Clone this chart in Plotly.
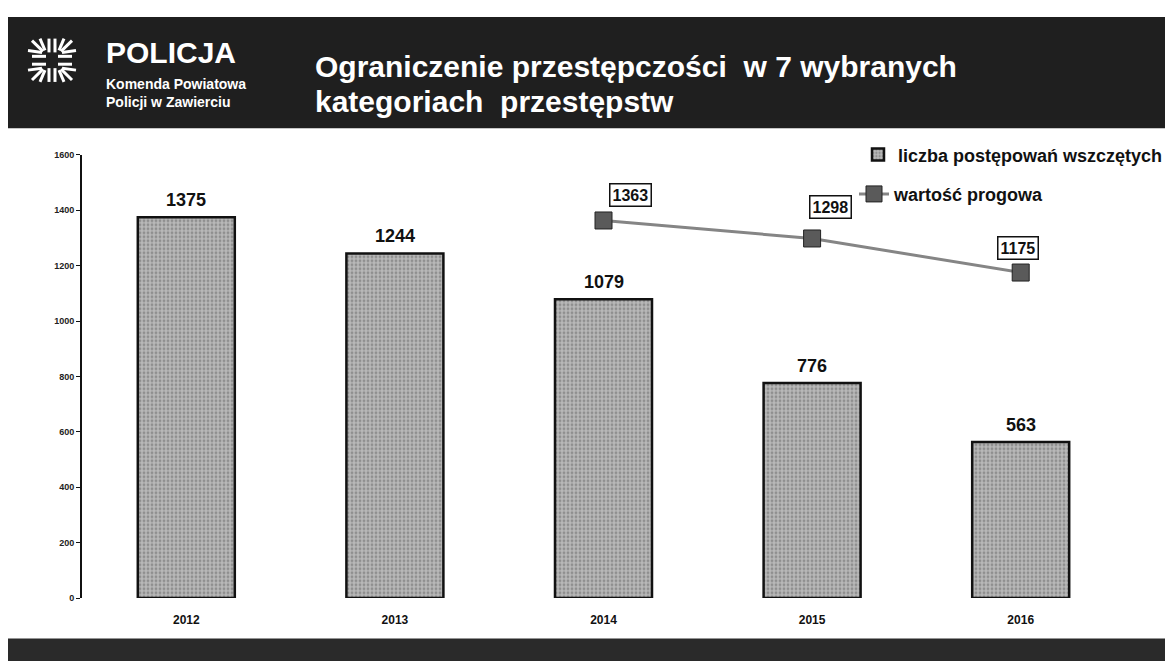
import plotly.graph_objects as go

years = ["2012", "2013", "2014", "2015", "2016"]
cases = [1375, 1244, 1079, 776, 563]
thr_years = ["2014", "2015", "2016"]
threshold = [1363, 1298, 1175]
y_ticks = [0, 200, 400, 600, 800, 1000, 1200, 1400, 1600]

W, H = 1173, 661
OFF = 8  # page body margin compensation
def px(x): return (x - OFF) / W
def py(y): return 1 - (y - OFF) / H

fig = go.Figure()

fig.add_trace(go.Bar(
    x=years, y=cases, name="<b>liczba postępowań wszczętych</b>",
    width=0.465,
    marker=dict(color="#b0b0b0", line=dict(color="#111", width=2.5),
                pattern=dict(shape=".", fgcolor="#666", bgcolor="#b8b8b8", size=4, solidity=0.4)),
    legend="legend",
))
fig.add_trace(go.Scatter(
    x=thr_years, y=threshold, name="<b>wartość progowa</b>", mode="lines+markers",
    line=dict(color="#858585", width=3),
    marker=dict(symbol="square", size=17, color="#5a5a5a", line=dict(color="#222", width=1)),
    legend="legend2",
))

annotations = []
for i, v in enumerate(cases):
    annotations.append(dict(x=i, y=v, text=f"<b>{v}</b>", showarrow=False, yanchor="middle",
                            yshift=17, font=dict(family="Arial", size=18, color="#111")))
offs = [(27, 25), (18, 31), (-3, 25)]
for (yr, v), (dx, dy) in zip(zip(thr_years, threshold), offs):
    annotations.append(dict(x=years.index(yr), y=v, text=f"<b>{v}</b>", showarrow=False,
                            xshift=dx, yshift=dy,
                            bgcolor="white", bordercolor="#111", borderwidth=1.5, borderpad=2,
                            font=dict(family="Arial", size=16, color="#111")))

# header texts
annotations += [
    dict(x=px(104), y=py(48), xref="paper", yref="paper", text="<b>POLICJA</b>", showarrow=False,
         xanchor="left", yanchor="middle", font=dict(family="Liberation Sans Narrow, Arial", size=30, color="white")),
    dict(x=px(104), y=py(80), xref="paper", yref="paper", text="<b>Komenda Powiatowa</b>", showarrow=False,
         xanchor="left", yanchor="middle", font=dict(family="Liberation Sans Narrow, Arial", size=14, color="white")),
    dict(x=px(104), y=py(98), xref="paper", yref="paper", text="<b>Policji w Zawierciu</b>", showarrow=False,
         xanchor="left", yanchor="middle", font=dict(family="Liberation Sans Narrow, Arial", size=14, color="white")),
    dict(x=px(313), y=py(62), xref="paper", yref="paper",
         text="<b>Ograniczenie przestępczości  w 7 wybranych</b>", showarrow=False,
         xanchor="left", yanchor="middle", font=dict(family="Arial", size=30, color="white")),
    dict(x=px(313), y=py(98), xref="paper", yref="paper",
         text="<b>kategoriach  przestępstw</b>", showarrow=False,
         xanchor="left", yanchor="middle", font=dict(family="Arial", size=30, color="white")),
]

shapes = [
    dict(type="rect", xref="paper", yref="paper", x0=px(8), x1=1.02, y0=py(125), y1=py(12),
         fillcolor="#1f1f1f", line=dict(width=0), layer="below"),
    dict(type="rect", xref="paper", yref="paper", x0=-0.02, x1=1.02, y0=-0.02, y1=py(643),
         fillcolor="#2a2a2a", line=dict(width=0), layer="below"),
]
# simple logo: radiating white bars
cx, cy = 52, 56
logo = [
    (cx - 20, cy - 4, cx - 6, cy - 4), (cx - 20, cy + 4, cx - 6, cy + 4),
    (cx + 6, cy - 4, cx + 20, cy - 4), (cx + 6, cy + 4, cx + 20, cy + 4),
    (cx - 3, cy - 22, cx - 3, cy - 8), (cx + 3, cy - 22, cx + 3, cy - 8),
    (cx - 3, cy + 8, cx - 3, cy + 22), (cx + 3, cy + 8, cx + 3, cy + 22),
    (cx - 20, cy - 20, cx - 9, cy - 9), (cx + 20, cy - 20, cx + 9, cy - 9),
    (cx - 20, cy + 20, cx - 9, cy + 9), (cx + 20, cy + 20, cx + 9, cy + 9),
    (cx - 12, cy - 22, cx - 7, cy - 10), (cx + 12, cy - 22, cx + 7, cy - 10),
    (cx - 12, cy + 22, cx - 7, cy + 10), (cx + 12, cy + 22, cx + 7, cy + 10),
    (cx - 24, cy - 10, cx - 10, cy - 8), (cx + 24, cy - 10, cx + 10, cy - 8),
    (cx - 24, cy + 10, cx - 10, cy + 8), (cx + 24, cy + 10, cx + 10, cy + 8),
]
for x0, y0, x1, y1 in logo:
    shapes.append(dict(type="line", xref="paper", yref="paper", x0=px(x0), y0=py(y0), x1=px(x1), y1=py(y1),
                       line=dict(color="white", width=3)))

fig.update_layout(
    width=W, height=H, margin=dict(l=0, r=0, t=0, b=0),
    paper_bgcolor="white", plot_bgcolor="white",
    font=dict(family="Arial", color="#111"),
    xaxis=dict(type="category", domain=[px(82), px(1125)], showgrid=False, showline=False, ticks="",
               tickfont=dict(family="Arial", size=12, color="#111"), ticklabelstandoff=13,
               tickvals=years, ticktext=[f"<b>{y}</b>" for y in years], range=[-0.5, 4.5]),
    yaxis=dict(domain=[py(602), py(152)], range=[0, 1600], showgrid=False, zeroline=False,
               showline=True, linecolor="#111", linewidth=2, ticks="outside", ticklen=4,
               tickcolor="#111", tickvals=y_ticks, ticktext=[f"<b>{t}</b>" for t in y_ticks],
               tickfont=dict(family="Arial", size=9, color="#222")),
    legend=dict(x=px(858), y=py(152), xanchor="left", yanchor="middle", bgcolor="rgba(0,0,0,0)",
                font=dict(family="Liberation Sans Narrow, Arial", size=18, color="#111"),
                itemwidth=30),
    legend2=dict(x=px(854), y=py(192), xanchor="left", yanchor="middle", bgcolor="rgba(0,0,0,0)",
                 font=dict(family="Liberation Sans Narrow, Arial", size=18, color="#111"),
                 itemwidth=30),
    bargap=0.5, annotations=annotations, shapes=shapes, showlegend=True,
)

fig.write_html("out.html")
